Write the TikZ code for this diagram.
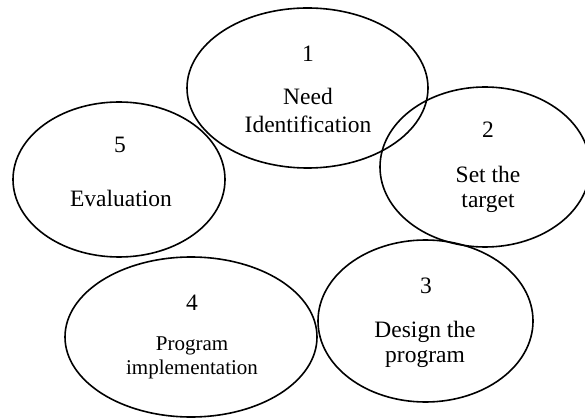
\documentclass[tikz,border=0pt]{standalone}
\usepackage{fontspec}
\setmainfont{Liberation Serif}
\usetikzlibrary{shapes.geometric}
\begin{document}
\begin{tikzpicture}[x=1pt,y=-1pt,
  stage/.style={draw=black, line width=1.6pt, ellipse, inner sep=0pt},
  txt/.style={anchor=base, inner sep=0pt, font=\fontsize{23.5}{28}\selectfont},
  smalltxt/.style={anchor=base, inner sep=0pt, font=\fontsize{21}{25}\selectfont}]
\path[use as bounding box, clip] (0,0) rectangle (585,419);
% ellipses
\node[stage, minimum width=241pt, minimum height=160pt] (e1) at (307.5,88) {};
\node[stage, minimum width=210pt, minimum height=160pt] (e2) at (485,167) {};
\node[stage, minimum width=215pt, minimum height=162pt] (e3) at (425.5,321) {};
\node[stage, minimum width=252pt, minimum height=160pt] (e4) at (191,337) {};
\node[stage, minimum width=212pt, minimum height=155pt] (e5) at (119,179.5) {};
% texts
\node[txt] (n1) at (308,62) {1};
\node[txt] (l1a) at (308,105) {Need};
\node[txt] (l1b) at (308,133) {Identification};
\node[txt] (n2) at (488,138) {2};
\node[txt] (l2a) at (488,183) {Set the};
\node[txt] (l2b) at (488,208) {target};
\node[txt] (n3) at (426,293) {3};
\node[txt] (l3a) at (425,337) {Design the};
\node[txt] (l3b) at (425,362) {program};
\node[txt] (n4) at (192,310) {4};
\node[smalltxt] (l4a) at (192,350) {Program};
\node[smalltxt] (l4b) at (192,374) {implementation};
\node[txt] (n5) at (120,153) {5};
\node[txt] (l5a) at (121,207) {Evaluation};
\end{tikzpicture}
\end{document}
